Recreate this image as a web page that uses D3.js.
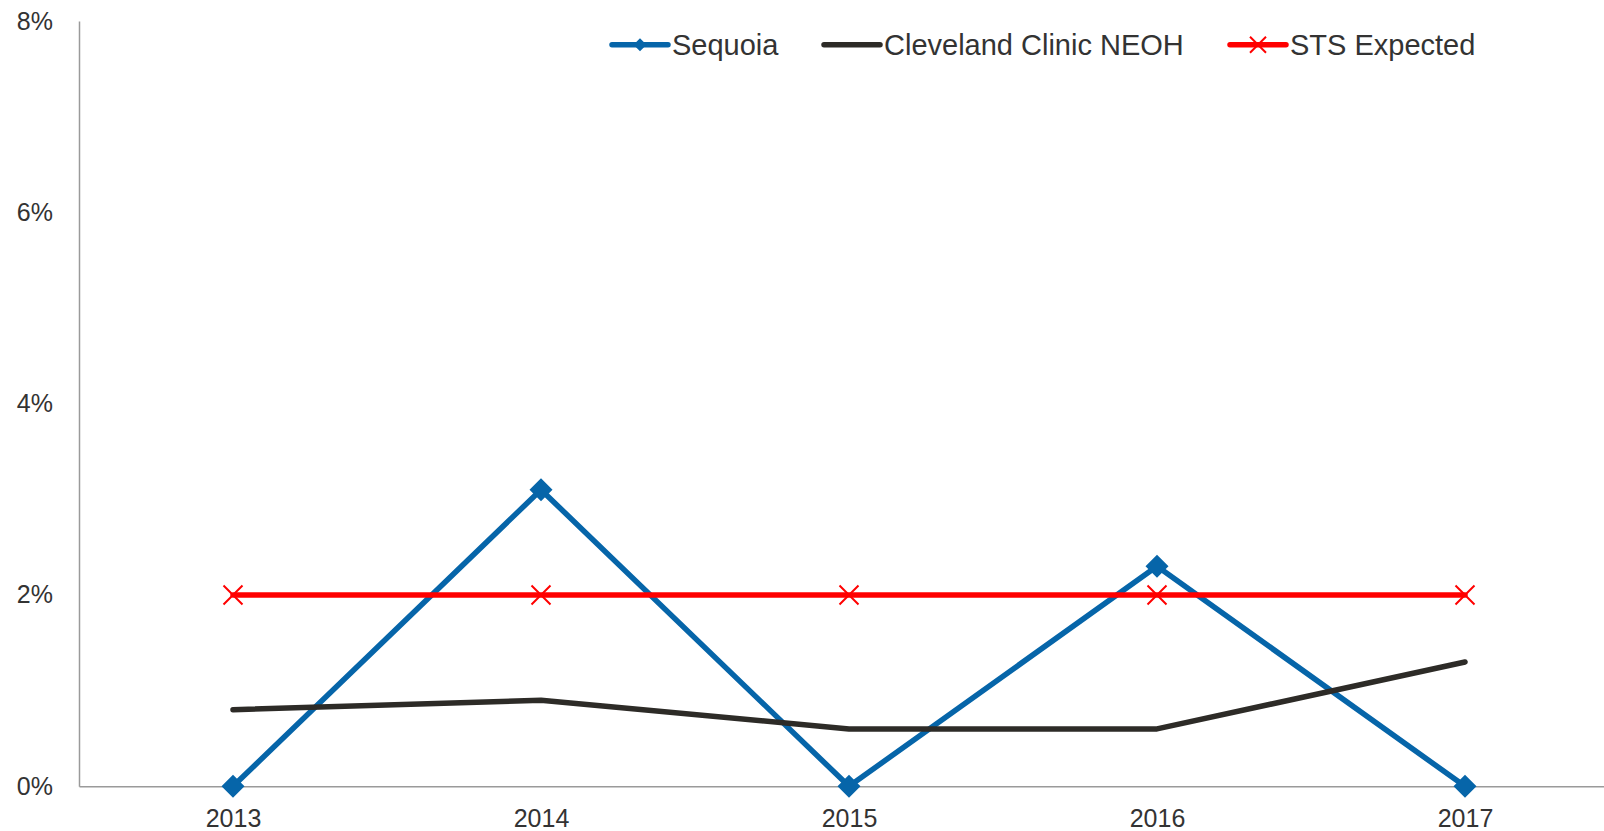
<!DOCTYPE html>
<html>
<head>
<meta charset="utf-8">
<script src="https://cdn.jsdelivr.net/npm/d3@7"></script>
<style>
	body { margin: 0; background: #fff; }
	text { font-family: "Liberation Sans", Arial, sans-serif; fill: #333; }
</style>
</head>
<body>
<div id="chart"></div>
<script>
"use strict";

var years = ["2013", "2014", "2015", "2016", "2017"];
var sequoia = [0, 3.1, 0, 2.3, 0];
var cleveland = [0.8, 0.9, 0.6, 0.6, 1.3];
var stsExpected = [2, 2, 2, 2, 2];
var yTicks = [0, 2, 4, 6, 8];

var seriesNames = ["Sequoia", "Cleveland Clinic NEOH", "STS Expected"];
var seriesColors = ["#0665a9", "#2d2b27", "#ff0000"];
var seriesMarkers = ["diamond", "none", "cross"];

//
// Setup Variables
//
var canvasWidth = 1604;
var canvasHeight = 831;
var margin = { top: 21, left: 79, bottom: 45 };

var x = d3.scalePoint()
	.domain(years)
	.range([margin.left, margin.left + 1540])
	.padding(0.5);

var y = d3.scaleLinear()
	.domain([0, 8])
	.range([786.3, margin.top]);

var series = seriesNames.map(function(name, i) {
	return {
		name: name,
		color: seriesColors[i],
		marker: seriesMarkers[i],
		values: [sequoia, cleveland, stsExpected][i]
	};
});

//
// Draw Canvas
//
var svg = d3.select("#chart")
	.append("svg")
		.attr("width", canvasWidth)
		.attr("height", canvasHeight);

//
// Axes
//
var yAxis = svg.append("g")
	.attr("transform", "translate(" + margin.left + ",0)")
	.call(d3.axisLeft(y)
		.tickValues(yTicks)
		.tickSize(0)
		.tickPadding(26)
		.tickFormat(function(d) { return d + "%"; }));

var xAxis = svg.append("g")
	.attr("transform", "translate(0," + y(0) + ")")
	.call(d3.axisBottom(x).tickSize(0).tickPadding(22.5));

[xAxis, yAxis].forEach(function(g) {
	g.select(".domain").attr("stroke", "#9a9a9a").attr("stroke-width", 1.5);
	g.selectAll("text")
		.attr("font-size", 25)
		.attr("font-family", "Liberation Sans, Arial, sans-serif")
		.attr("fill", "#333");
});

//
// Lines
//
var line = d3.line()
	.x(function(d, i) { return x(years[i]); })
	.y(function(d) { return y(d); });

function drawMarker(g, type, cx, cy, size, color) {
	if (type === "diamond") {
		g.append("path")
			.attr("d", "M" + cx + "," + (cy - size) + "L" + (cx + size) + "," + cy +
				"L" + cx + "," + (cy + size) + "L" + (cx - size) + "," + cy + "Z")
			.attr("fill", color);
	} else if (type === "cross") {
		g.append("path")
			.attr("d", "M" + (cx - size) + "," + (cy - size) + "L" + (cx + size) + "," + (cy + size) +
				"M" + (cx - size) + "," + (cy + size) + "L" + (cx + size) + "," + (cy - size))
			.attr("stroke", color)
			.attr("stroke-width", 2)
			.attr("fill", "none");
	}
}

series.forEach(function(s) {
	var g = svg.append("g");
	g.append("path")
		.datum(s.values)
		.attr("d", line)
		.attr("fill", "none")
		.attr("stroke", s.color)
		.attr("stroke-width", 5.5)
		.attr("stroke-linejoin", "round")
		.attr("stroke-linecap", "round");
	s.values.forEach(function(v, i) {
		drawMarker(g, s.marker, x(years[i]), y(v), s.marker === "diamond" ? 11.5 : 9.5, s.color);
	});
});

//
// Legend
//
var legendX = [612, 824, 1230];
var legendY = 44.7;

var legend = svg.append("g");
series.forEach(function(s, i) {
	var lg = legend.append("g");
	lg.append("line")
		.attr("x1", legendX[i])
		.attr("x2", legendX[i] + 56)
		.attr("y1", legendY)
		.attr("y2", legendY)
		.attr("stroke", s.color)
		.attr("stroke-width", 5.5)
		.attr("stroke-linecap", "round");
	drawMarker(lg, s.marker, legendX[i] + 28, legendY, s.marker === "diamond" ? 6.5 : 8, s.color);
	lg.append("text")
		.attr("x", legendX[i] + 60)
		.attr("y", legendY)
		.attr("dy", "0.35em")
		.attr("font-size", 29)
		.text(s.name);
});
</script>
</body>
</html>
